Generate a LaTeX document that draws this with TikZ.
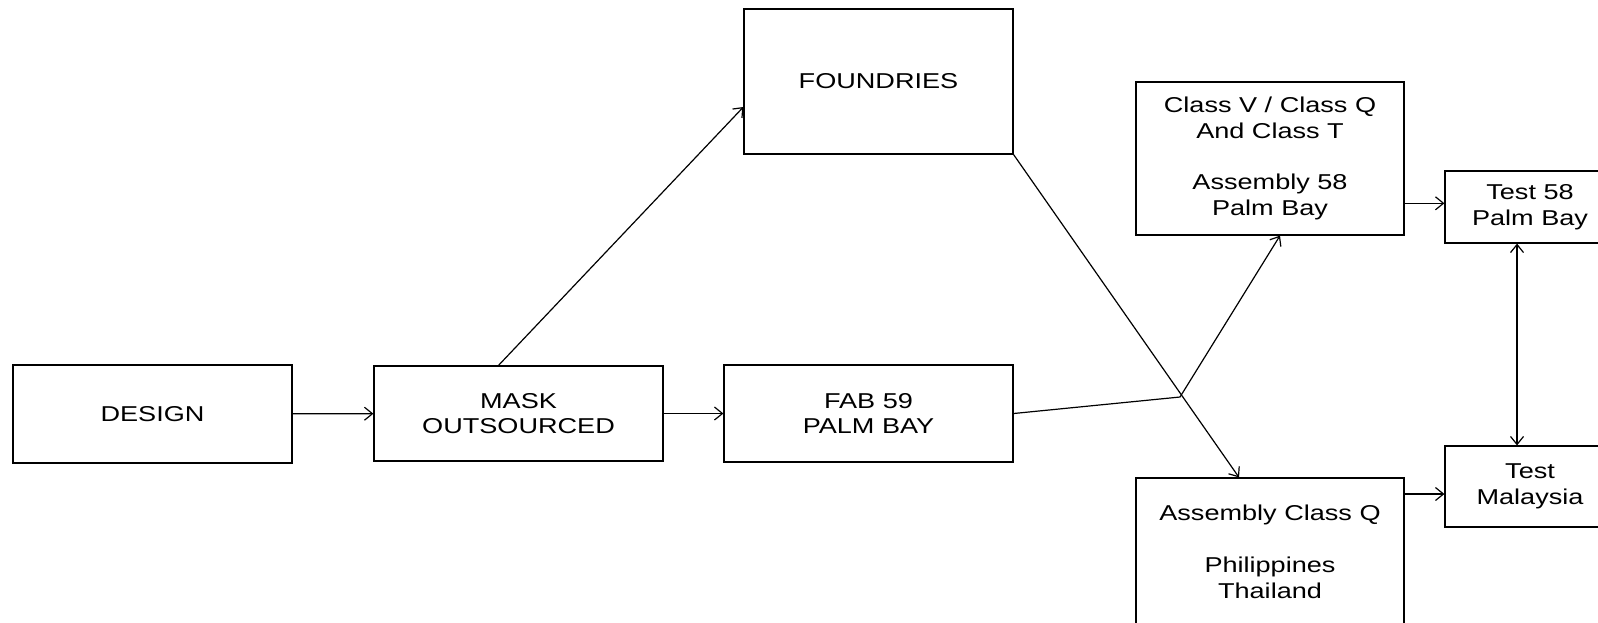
\documentclass[tikz,border=0pt]{standalone}
\usepackage{fontspec}
\setmainfont{Liberation Sans}[FakeStretch=1.26]
\usepackage{tikz}
\usetikzlibrary{arrows.meta}

\begin{document}
\begin{tikzpicture}[x=0.5pt, y=-0.5pt,
  procbox/.style={draw, line width=0.6pt, align=center, inner sep=0pt,
    font=\fontsize{10.75}{12.9}\selectfont},
  flow/.style={line width=0.6pt, -{Straight Barb[length=4pt,width=6.5pt]}}]
\useasboundingbox (0,0) rectangle (1598,622);
\clip (0,0) rectangle (1598,622);

% Main line
\node[procbox, minimum width=139.5pt, minimum height=49pt] (design) at (152.5,414) {DESIGN};
\node[procbox, minimum width=144.5pt, minimum height=47.5pt] (mask) at (518.5,413.5) {MASK\\OUTSOURCED};
\node[procbox, minimum width=144.5pt, minimum height=48.5pt] (fab) at (868.5,413.5) {FAB 59\\PALM BAY};

% Outside wafers
\node[procbox, minimum width=134.5pt, minimum height=72.5pt] (foundries) at (878.5,81.5) {FOUNDRIES};

% Assembly
\node[procbox, minimum width=134pt, minimum height=76.5pt] (asm58) at (1270,158.5)
  {Class V / Class Q\\And Class T\\[\baselineskip]Assembly 58\\Palm Bay};
\node[procbox, minimum width=134pt, minimum height=74pt] (asmq) at (1270,552)
  {Assembly Class Q\\[\baselineskip]Philippines\\Thailand};

% Test
\node[procbox, minimum width=85pt, minimum height=36pt] (test58) at (1530,207) {Test 58\\Palm Bay};
\node[procbox, minimum width=85pt, minimum height=40.5pt] (testmy) at (1530,486.5) {Test\\Malaysia};

% Where the two wafer routes cross
\coordinate (cross) at (1180,397);

% Arrows
\draw[flow] (design) -- (mask);
\draw[flow] (mask) -- (fab);
\draw[flow] ([xshift=-10pt]mask.north) -- ([yshift=-12.75pt]foundries.west);
\draw[flow] (foundries.south east) -- ([xshift=-15.5pt]asmq.north);
\draw[flow] (fab.east) -- (cross) -- ([xshift=5pt]asm58.south);
\draw[flow] ([yshift=1.85pt]test58.west -| asm58.east) -- ([yshift=1.85pt]test58.west);
\draw[flow] ([yshift=-3.75pt]testmy.west -| asmq.east) -- ([yshift=-3.75pt]testmy.west);
\draw[flow, {Straight Barb[length=4pt,width=6.5pt]}-{Straight Barb[length=4pt,width=6.5pt]}]
  ([xshift=-6.5pt]test58.south) -- ([xshift=-6.5pt]testmy.north);
\end{tikzpicture}
\end{document}
